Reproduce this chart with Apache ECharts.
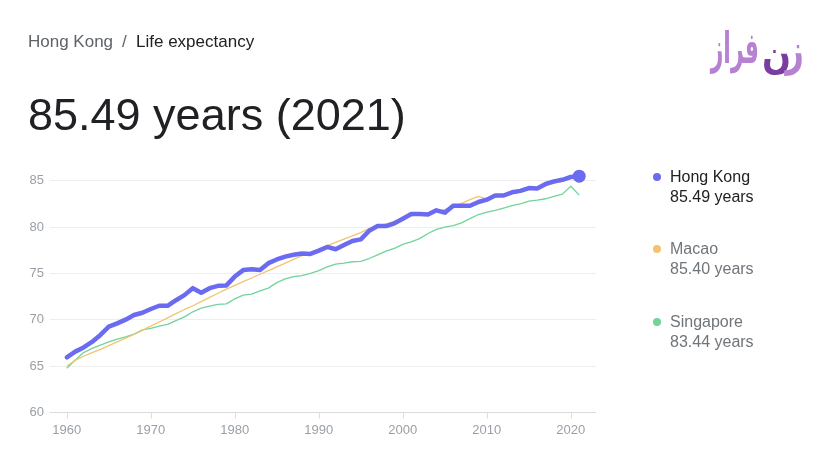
<!DOCTYPE html>
<html>
<head>
<meta charset="utf-8">
<script src="https://cdn.jsdelivr.net/npm/echarts@6/dist/echarts.min.js"></script>
<style>
html,body{margin:0;padding:0;background:#fff;}
#chart{width:827px;height:472px;}
</style>
</head>
<body>
<div id="chart"></div>
<script>
var years = [];
for (var y = 1960; y <= 2021; y++) years.push(y);

var hongKong = [65.94,66.55,67.0,67.6,68.35,69.25,69.6,70.0,70.5,70.75,
  71.15,71.5,71.5,72.1,72.65,73.4,72.9,73.4,73.65,73.7,
  74.65,75.35,75.45,75.35,76.1,76.5,76.8,77.0,77.15,77.1,
  77.45,77.85,77.6,78.06,78.5,78.67,79.6,80.1,80.1,80.4,
  80.9,81.4,81.4,81.35,81.8,81.55,82.3,82.3,82.3,82.7,
  82.95,83.4,83.4,83.75,83.9,84.2,84.15,84.65,84.93,85.1,
  85.4,85.49];
var macao = [65.0,65.6,66.05,66.45,66.8,67.2,67.6,68.0,68.4,68.85,
  69.3,69.75,70.2,70.65,71.1,71.5,71.95,72.4,72.85,73.3,
  73.7,74.1,74.5,74.9,75.3,75.7,76.1,76.5,76.9,77.25,
  77.6,78.0,78.35,78.7,79.05,79.4,79.85,80.1,80.3,80.6,
  80.9,81.2,81.35,81.5,81.7,81.9,82.2,82.55,82.95,83.3,
  83.0,83.2,83.4,83.6,83.8,84.0,84.2,84.45,84.7,84.95,
  85.3,85.40];
var singapore = [64.75,65.65,66.45,66.9,67.25,67.6,67.9,68.15,68.45,68.9,
  69.05,69.3,69.5,69.9,70.3,70.85,71.25,71.45,71.65,71.7,
  72.25,72.65,72.75,73.1,73.4,74.0,74.4,74.65,74.75,75.0,
  75.3,75.7,76.0,76.1,76.25,76.3,76.6,77.0,77.4,77.7,
  78.13,78.4,78.75,79.3,79.75,80.0,80.15,80.45,80.9,81.35,
  81.6,81.8,82.05,82.3,82.5,82.8,82.9,83.05,83.3,83.55,
  84.4,83.44];

var xTickLabels = [1960,1970,1980,1990,2000,2010,2020];
var names = ['Hong Kong','Macao','Singapore'];
var colors = ['#6b6bf2','#f2c46f','#72d39b'];

function pairs(vals){ return years.map(function(yr,i){ return [yr, vals[i]]; }); }
var last = years.length - 1;
var FONT = '"Liberation Sans", Arial, sans-serif';
var LOGO_FONT = 'bold 40px "DejaVu Sans", sans-serif';

var chart = echarts.init(document.getElementById('chart'));

var legendGraphics = [];
var seriesVals = [hongKong, macao, singapore];
var legendY = [177, 249, 322];
names.forEach(function(n, i){
  legendGraphics.push({type:'circle', shape:{cx:657, cy:legendY[i], r:4}, style:{fill:colors[i]}});
  legendGraphics.push({type:'text', x:670, y:legendY[i]+1, style:{text:n, font:'16px '+FONT, fill: i===0?'#202124':'#70757a', verticalAlign:'middle'}});
  legendGraphics.push({type:'text', x:670, y:legendY[i]+21, style:{text:seriesVals[i][last].toFixed(2)+' years', font:'16px '+FONT, fill: i===0?'#202124':'#70757a', verticalAlign:'middle'}});
});

var option = {
  animation: false,
  backgroundColor: '#ffffff',
  grid: {left: 50, right: 231, top: 180.7, bottom: 59.7},
  xAxis: {
    type: 'value', min: 1958, max: 2023,
    axisLine: {show: true, lineStyle: {color: '#dadce0'}},
    axisTick: {show: true, length: 6, lineStyle: {color: '#dadce0'}, customValues: xTickLabels},
    axisLabel: {customValues: xTickLabels, color: '#9aa0a6', fontSize: 13, fontFamily: FONT, margin: 12,
      formatter: function(v){ return String(v); }},
    splitLine: {show: false}
  },
  yAxis: {
    type: 'value', min: 60, max: 85, interval: 5,
    axisLine: {show: false}, axisTick: {show: false},
    axisLabel: {color: '#9aa0a6', fontSize: 13, fontFamily: FONT, margin: 6},
    splitLine: {lineStyle: {color: '#eeeeee'}}
  },
  series: [
    {name: names[2], type: 'line', data: pairs(singapore), showSymbol: false, clip: false,
      lineStyle: {color: colors[2], width: 1.3}, itemStyle:{color: colors[2]}, z: 2},
    {name: names[1], type: 'line', data: pairs(macao), showSymbol: false, clip: false,
      lineStyle: {color: colors[1], width: 1.3}, itemStyle:{color: colors[1]}, z: 3},
    {name: names[0], type: 'line', data: pairs(hongKong), showSymbol: false, clip: false,
      lineStyle: {color: colors[0], width: 4.5, cap: 'round', join: 'round'}, itemStyle:{color: colors[0]}, z: 4},
    {name: names[0]+' end', type: 'scatter', data: [[years[last], hongKong[last]]], symbolSize: 13, clip: false,
      itemStyle: {color: colors[0], opacity: 1}, z: 5}
  ],
  graphic: [
    {type:'text', x:28, y:42, style:{text:'Hong Kong', font:'17px '+FONT, fill:'#5f6368', verticalAlign:'middle'}},
    {type:'text', x:122, y:42, style:{text:'/', font:'17px '+FONT, fill:'#5f6368', verticalAlign:'middle'}},
    {type:'text', x:136, y:42, style:{text:'Life expectancy', font:'17px '+FONT, fill:'#202124', verticalAlign:'middle'}},
    {type:'text', x:28, y:118, style:{text: hongKong[last].toFixed(2)+' years ('+years[last]+')', font:'45px '+FONT, fill:'#202124', verticalAlign:'middle'}},
    {type:'text', x:759, y:52, scaleX:0.55, scaleY:1.1, style:{text:'فراز', font:LOGO_FONT, fill:'#b681d3', align:'right', verticalAlign:'middle'}},
    {type:'text', x:791, y:58, scaleX:0.85, scaleY:1.0, style:{text:'ن', font:LOGO_FONT, fill:'#7a3c9e', align:'right', verticalAlign:'middle'}},
    {type:'text', x:804, y:54, scaleX:0.8, scaleY:1.1, style:{text:'ز', font:LOGO_FONT, fill:'#b681d3', align:'right', verticalAlign:'middle'}}
  ].concat(legendGraphics)
};
chart.setOption(option);
</script>
</body>
</html>
